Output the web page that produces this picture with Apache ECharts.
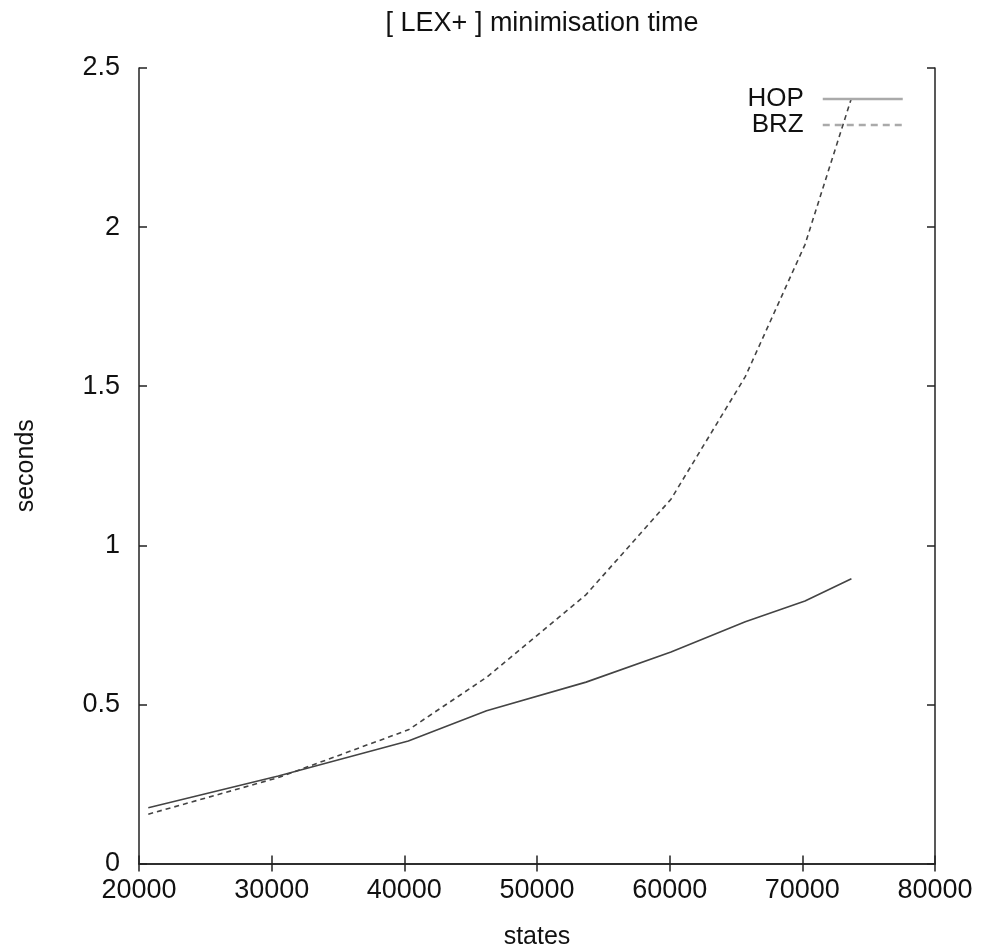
<!DOCTYPE html>
<html><head><meta charset="utf-8">
<script src="https://cdn.jsdelivr.net/npm/echarts@6/dist/echarts.min.js"></script>
<style>html,body{margin:0;padding:0;background:#fff}#c{width:983px;height:951px}</style>
</head><body><div id="c"></div>
<script>
const states = [20700, 30500, 40300, 46200, 53700, 60100, 65700, 70200, 73700];
const hop = [0.175, 0.275, 0.385, 0.48, 0.57, 0.665, 0.76, 0.825, 0.895];
const brz = [0.155, 0.27, 0.42, 0.585, 0.845, 1.145, 1.53, 1.945, 2.405];
const xTicks = [20000, 30000, 40000, 50000, 60000, 70000, 80000];
const yTicks = [0, 0.5, 1, 1.5, 2, 2.5];

const font = '"Liberation Sans", Arial, sans-serif';
const axisLine = {show: true, lineStyle: {color: '#222', width: 1.5}};
const tick = {show: true, inside: true, length: 8, lineStyle: {color: '#222', width: 1.5}};
const hidden = {color: 'rgba(0,0,0,0)', borderWidth: 0, opacity: 0};
const chart = echarts.init(document.getElementById('c'));
chart.setOption({
  animation: false,
  backgroundColor: '#fff',
  title: {text: '[ LEX+ ] minimisation time', left: 537, textAlign: 'center', top: 5,
    textStyle: {fontFamily: font, fontSize: 27, fontWeight: 'normal', color: '#111'}},
  grid: {left: 139, right: 48, top: 68, bottom: 87.5, outerBoundsMode: 'none', containLabel: false},
  legend: {
    orient: 'vertical', right: 74, top: 81, align: 'right', itemWidth: 80, itemHeight: 20, itemGap: 0,
    textStyle: {fontFamily: font, fontSize: 26, color: '#111', padding: [0, 14, 0, 0]},
    data: [
      {name: 'HOP', itemStyle: hidden, lineStyle: {color: '#aaa', width: 2.5}},
      {name: 'BRZ', itemStyle: hidden, lineStyle: {color: '#aaa', width: 2.5, type: [7, 5]}}
    ]
  },
  xAxis: [
    {type: 'value', min: 20000, max: 80000, interval: 10000, name: 'states', nameLocation: 'middle', nameGap: 61,
      nameTextStyle: {fontFamily: font, fontSize: 25, color: '#111'},
      axisLine: axisLine, axisTick: tick, splitLine: {show: false},
      axisLabel: {fontFamily: font, fontSize: 27, color: '#111', margin: 14, formatter: v => String(v)}},
    {type: 'value', position: 'top', min: 20000, max: 80000, interval: 10000,
      axisLine: axisLine, axisTick: tick, splitLine: {show: false}, axisLabel: {show: false}}
  ],
  yAxis: [
    {type: 'value', min: 0, max: 2.5, interval: 0.5, name: 'seconds', nameLocation: 'middle', nameGap: 100,
      nameTextStyle: {fontFamily: font, fontSize: 25, color: '#111'},
      axisLine: axisLine, axisTick: tick, splitLine: {show: false},
      axisLabel: {fontFamily: font, fontSize: 27, color: '#111', margin: 19, formatter: v => String(v)}},
    {type: 'value', position: 'right', min: 0, max: 2.5, interval: 0.5,
      axisLine: axisLine, axisTick: tick, splitLine: {show: false}, axisLabel: {show: false}}
  ],
  series: [
    {name: 'HOP', type: 'line', showSymbol: false, symbol: 'none', data: states.map((s, i) => [s, hop[i]]),
      lineStyle: {color: '#444', width: 1.6}, itemStyle: {color: '#444'}},
    {name: 'BRZ', type: 'line', showSymbol: false, symbol: 'none', data: states.map((s, i) => [s, brz[i]]),
      lineStyle: {color: '#444', width: 1.6, type: [5, 4]}, itemStyle: {color: '#444'}}
  ]
});
</script></body></html>
